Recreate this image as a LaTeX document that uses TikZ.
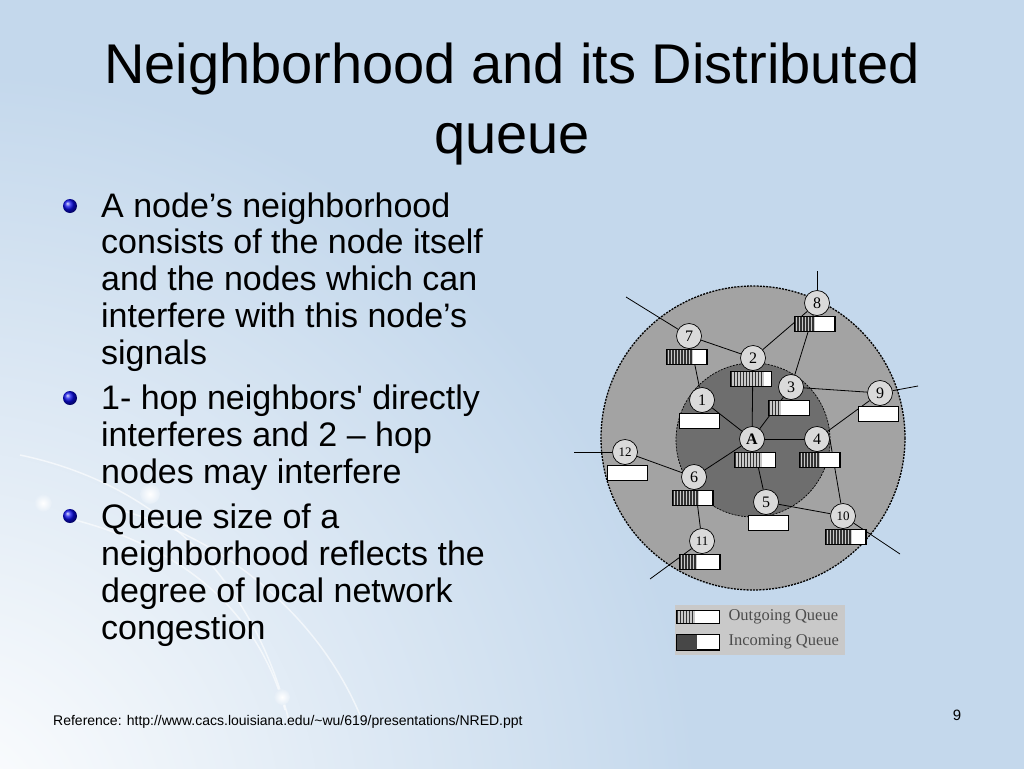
\documentclass[tikz,border=0pt]{standalone}
\usepackage{fontspec}
\setmainfont{Liberation Sans}
\newfontfamily\seriffont{Liberation Serif}
\usetikzlibrary{positioning}

\definecolor{slideblue}{RGB}{196,216,236}
\definecolor{ringgray}{RGB}{163,163,163}
\definecolor{coregray}{RGB}{110,110,110}
\definecolor{hostgray}{RGB}{218,218,218}
\definecolor{stripegray}{RGB}{200,200,200}
\definecolor{legendgray}{RGB}{201,201,201}
\definecolor{bulletblue}{RGB}{10,10,230}

\tikzset{
  host/.style={circle, draw, fill=hostgray, line width=0.7pt, minimum size=25pt, inner sep=0pt,
    font=\seriffont\fontsize{16}{16}\selectfont},
  smallhost/.style={host, font=\seriffont\fontsize{13}{13}\selectfont},
  queue/.style={draw, fill=white, line width=0.7pt, minimum width=40pt, minimum height=14.5pt, inner sep=0pt},
  link/.style={line width=0.8pt},
  bar/.style={line width=1.3pt, black!80},
  zone/.style={draw, dash pattern=on 2pt off 1.2pt},
  point/.style={circle, shading=ball, ball color=bulletblue, minimum size=14pt, inner sep=0pt},
  item/.style={anchor=base west, align=left, inner sep=0pt, font=\fontsize{34}{36.7}\selectfont},
  swoosh/.style={white, opacity=0.6, line width=1.5pt},
  bubble/.style={inner color=white, outer color=white!55!slideblue},
}

% stripes of the outgoing part: box, count
\newcommand\stripes[2]{%
  \fill[stripegray] (#1.north west) rectangle ([xshift=#2*3pt]#1.south west);
  \foreach \k in {1,...,#2}
    \draw[bar] ([xshift={(3*\k-2.3)*1pt}]#1.north west) -- ([xshift={(3*\k-2.3)*1pt}]#1.south west);
  \draw[line width=0.7pt] (#1.north west) rectangle (#1.south east);
}
% queue under a host: name, host, stripes, shift
\newcommand\queueat[4]{%
  \node[queue, below=0.5pt of #2, xshift=#4] (#1) {};
  \ifnum#3>0 \stripes{#1}{#3}\fi
}

\begin{document}
\begin{tikzpicture}[x=1pt, y=-1pt]
  \useasboundingbox (0,0) rectangle (1024,768);
  \fill[slideblue] (-5,-5) rectangle (1030,775);

  % background swooshes
  \begin{scope}
    \clip (-5,-5) rectangle (1030,775);
    \shade[inner color=white, outer color=slideblue] (-60,830) circle (760);
    \draw[swoosh] (20,455) .. controls (140,480) and (250,560) .. (290,725);
    \draw[swoosh] (75,520) .. controls (170,545) and (255,600) .. (285,710);
    \draw[swoosh] (120,510) .. controls (230,540) and (320,620) .. (360,715);
    \shade[bubble] (43,503) circle (9);
    \shade[bubble] (150,494) circle (10);
    \shade[bubble] (282,697) circle (8);
  \end{scope}

  % title
  \node[anchor=base, font=\fontsize{56}{56}\selectfont] (title1) at (512,83) {Neighborhood and its Distributed};
  \node[anchor=base, font=\fontsize{56}{56}\selectfont] (title2) at (512,153) {queue};

  % bullets (anchored at the last line)
  \node[point] (dot1) at (70,206) {};
  \node[item] (item1) at (101,364) {A node’s neighborhood\\consists of the node itself\\and the nodes which can\\interfere with this node’s\\signals};
  \node[point] (dot2) at (70,398) {};
  \node[item] (item2) at (101,483) {1- hop neighbors\textquotesingle{} directly\\interferes and 2 – hop\\nodes may interfere};
  \node[point] (dot3) at (70,516) {};
  \node[item] (item3) at (101,639) {Queue size of a\\neighborhood reflects the\\degree of local network\\congestion};

  % neighborhoods
  \draw[zone, line width=1.3pt, fill=ringgray] (753,438) circle (152);
  \draw[zone, line width=0.7pt, fill=coregray] (753,440) circle (77);

  % hosts
  \node[host] (n8) at (817,303) {8};
  \node[host] (n7) at (689,336) {7};
  \node[host] (n2) at (753,358) {2};
  \node[host] (n3) at (791,387) {3};
  \node[host] (n9) at (880,393) {9};
  \node[host] (n1) at (702,400) {1};
  \node[host, font=\seriffont\bfseries\fontsize{16}{16}\selectfont] (nA) at (752,439) {A};
  \node[host] (n4) at (817,439) {4};
  \node[smallhost] (n12) at (625,452) {12};
  \node[host] (n6) at (694,477) {6};
  \node[host] (n5) at (766,502) {5};
  \node[smallhost] (n10) at (843,516) {10};
  \node[smallhost] (n11) at (702,541) {11};

  % links
  \draw[link] (n7) -- (n2) -- (n8) -- (n3) -- (n9) -- (n4);
  \draw[link] (n7) -- (n1) -- (nA) -- (n2);
  \draw[link] (nA) -- (n3);
  \draw[link] (nA) -- (n4);
  \draw[link] (nA) -- (n5) -- (n10);
  \draw[link] (n4.east) -- (n10);
  \draw[link] (n12) -- (n6) -- (nA);
  \draw[link] (n6) -- (n11);

  % links leaving the picture
  \coordinate (e8) at (817,271);
  \coordinate (e7) at (626,297);
  \coordinate (e9) at (918,386);
  \coordinate (e12) at (574,452);
  \coordinate (e10) at (900,554);
  \coordinate (e11) at (650,579);
  \draw[link] (n8) -- (e8);
  \draw[link] (n7) -- (e7);
  \draw[link] (n9) -- (e9);
  \draw[link] (n12) -- (e12);
  \draw[link] (n10) -- (e10);
  \draw[link] (n11) -- (e11);

  % queues
  \queueat{q8}{n8}{7}{-2.5pt}
  \queueat{q7}{n7}{9}{-2.5pt}
  \queueat{q2}{n2}{11}{-2pt}
  \queueat{q3}{n3}{4}{-2pt}
  \queueat{q9}{n9}{0}{-2pt}
  \queueat{q1}{n1}{0}{-2.5pt}
  \queueat{qA}{nA}{9}{3pt}
  \queueat{q4}{n4}{7}{2.5pt}
  \queueat{q12}{n12}{0}{2.5pt}
  \queueat{q6}{n6}{9}{-1.5pt}
  \queueat{q5}{n5}{0}{2.5pt}
  \queueat{q10}{n10}{9}{2.5pt}
  \queueat{q11}{n11}{6}{-2.5pt}

  % legend
  \node[fill=legendgray, minimum width=170pt, minimum height=50pt, inner sep=0pt] (legend) at (760,630) {};
  \node[queue, minimum width=42pt, minimum height=12.5pt] (keyout) at (698,617) {};
  \stripes{keyout}{6}
  \node[queue, minimum width=42pt, minimum height=15pt] (keyin) at (698,642) {};
  \fill[black!72] (keyin.north west) rectangle ([xshift=20pt]keyin.south west);
  \draw[line width=0.7pt] (keyin.north west) rectangle (keyin.south east);
  \node[right=9pt of keyout, inner sep=0pt, text=black!70, font=\seriffont\fontsize{16.5}{16.5}\selectfont] (keyouttext) {Outgoing Queue};
  \node[right=9pt of keyin, inner sep=0pt, text=black!70, font=\seriffont\fontsize{16.5}{16.5}\selectfont] (keyintext) {Incoming Queue};

  % footer
  \node[anchor=base west, inner sep=0pt, font=\fontsize{14}{14}\selectfont] (source) at (53,725) {Reference: http://www.cacs.louisiana.edu/\textasciitilde wu/619/presentations/NRED.ppt};
  \node[anchor=base, inner sep=0pt, font=\fontsize{15}{15}\selectfont] (pageno) at (957,720) {9};
\end{tikzpicture}
\end{document}
